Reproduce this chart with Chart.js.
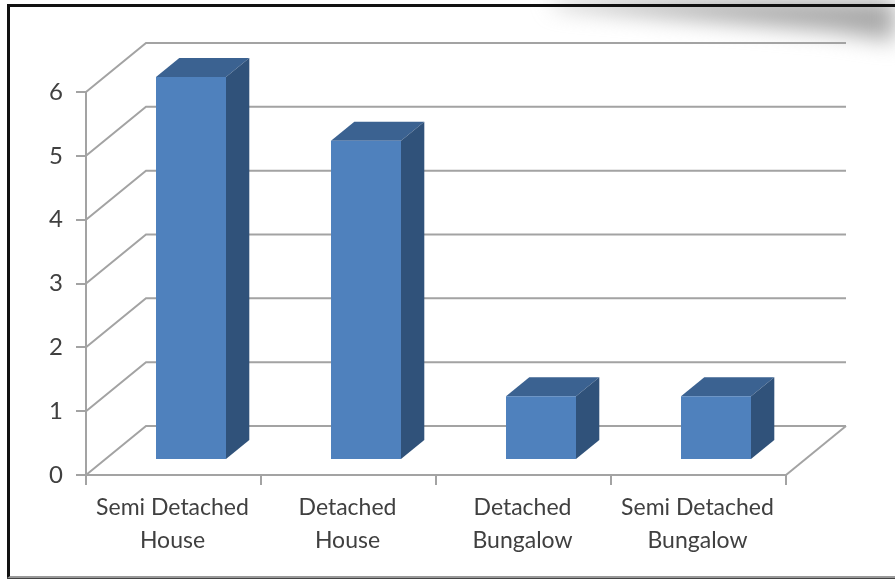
<!DOCTYPE html>
<html>
<head>
<meta charset="utf-8">
<style>
  html, body { margin: 0; padding: 0; background: #fff; overflow: hidden; }
  #page { position: relative; width: 895px; height: 579px; overflow: hidden; background: #fff; }
  #shade { position: absolute; left: 0; top: 0; width: 895px; height: 579px; filter: blur(11px); }
  #shade div { width: 100%; height: 100%; background: #a8a8a8; clip-path: polygon(470px -40px, 940px -40px, 940px 48px, 830px 31px, 700px 19px, 560px 6px); }
  #frame { position: absolute; left: 7px; top: 4px; width: 890px; height: 569px; border-top: 3px solid #111; border-left: 3px solid #111; border-bottom: 2px solid #999; box-shadow: 0 1px 0 #444; }
  canvas { position: absolute; left: 0; top: 0; }
</style>
</head>
<body>
<div id="page">
  <div id="shade"><div></div></div>
  <div id="frame"></div>
  <canvas id="chart" width="895" height="579"></canvas>
</div>
<script src="https://cdn.jsdelivr.net/npm/chart.js@4"></script>
<script>
const categories = [
  ['Semi Detached', 'House'],
  ['Detached', 'House'],
  ['Detached', 'Bungalow'],
  ['Semi Detached', 'Bungalow']
];
const houseCounts = [6, 5, 1, 1];
const yTicks = [0, 1, 2, 3, 4, 5, 6];

const lineGrey = '#a3a3a3';
const textGrey = '#404040';

// fake 3D: how far the back wall sits from the front axes, and the bar offset/depth
const wall = { dx: 60, dy: -49 };
const barShift = { dx: 17.5, dy: -15 };
const barDepth = { dx: 23.3, dy: -19 };

function poly(ctx, pts, fill) {
  ctx.beginPath();
  pts.forEach((p, i) => i ? ctx.lineTo(p[0], p[1]) : ctx.moveTo(p[0], p[1]));
  ctx.closePath();
  ctx.fillStyle = fill;
  ctx.fill();
}

const fake3d = {
  id: 'fake3d',
  beforeDatasetsDraw(chart) {
    const { ctx, scales: { x, y } } = chart;
    ctx.save();
    ctx.strokeStyle = lineGrey;
    ctx.lineWidth = 2;
    // back wall lines and the diagonals that join them to the y axis
    yTicks.forEach(v => {
      const py = y.getPixelForValue(v);
      ctx.beginPath();
      ctx.moveTo(x.left, py);
      ctx.lineTo(x.left + wall.dx, py + wall.dy);
      ctx.lineTo(x.right + wall.dx, py + wall.dy);
      ctx.stroke();
    });
    // floor edge on the right
    const floorY = y.getPixelForValue(0);
    ctx.beginPath();
    ctx.moveTo(x.right, floorY);
    ctx.lineTo(x.right + wall.dx, floorY + wall.dy);
    ctx.stroke();
    ctx.restore();

    // bars are drawn by the library, only shifted onto the floor
    ctx.save();
    ctx.translate(barShift.dx, barShift.dy);
    chart.getDatasetMeta(0).data.forEach(bar => {
      const l = bar.x - bar.width / 2, r = bar.x + bar.width / 2;
      const d = barDepth;
      poly(ctx, [[l, bar.y], [r, bar.y], [r + d.dx, bar.y + d.dy], [l + d.dx, bar.y + d.dy]], '#3b6291');
      poly(ctx, [[r, bar.y], [r + d.dx, bar.y + d.dy], [r + d.dx, bar.base + d.dy], [r, bar.base]], '#30527a');
    });
  },
  afterDatasetsDraw(chart) {
    chart.ctx.restore();
  }
};

new Chart(document.getElementById('chart'), {
  type: 'bar',
  data: {
    labels: categories,
    datasets: [{
      data: houseCounts,
      backgroundColor: '#4f81bd',
      barPercentage: 0.4,
      categoryPercentage: 1,
      clip: false
    }]
  },
  plugins: [fake3d],
  options: {
    responsive: false,
    animation: false,
    layout: { padding: { left: 0, right: 109, top: 92, bottom: 0 } },
    plugins: { legend: { display: false }, tooltip: { enabled: false } },
    scales: {
      x: {
        afterFit(scale) { scale.height = 104; },
        border: { color: lineGrey, width: 2 },
        grid: { color: lineGrey, lineWidth: 2, drawOnChartArea: false, tickLength: 10 },
        ticks: {
          color: textGrey,
          maxRotation: 0,
          autoSkip: false,
          padding: 6,
          labelOffset: -1,
          font: { family: 'Lato', size: 23, lineHeight: 1.43 }
        }
      },
      y: {
        min: 0,
        max: 6,
        afterFit(scale) { scale.width = 86; },
        afterBuildTicks(scale) { scale.ticks = yTicks.map(v => ({ value: v })); },
        border: { color: lineGrey, width: 2 },
        grid: { color: lineGrey, lineWidth: 2, drawOnChartArea: false, tickLength: 10 },
        ticks: {
          color: textGrey,
          padding: 13,
          font: { family: 'Lato', size: 24 }
        }
      }
    }
  }
});
</script>
</body>
</html>
